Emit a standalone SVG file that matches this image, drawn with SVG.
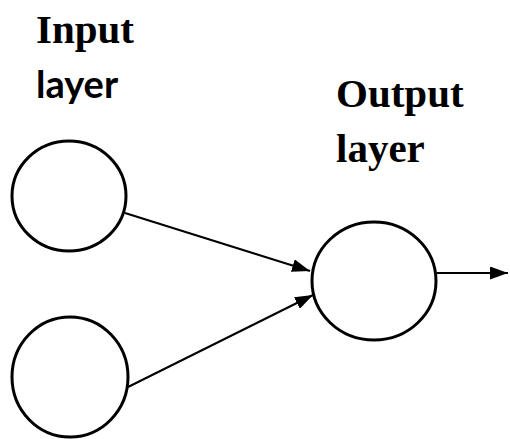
<svg xmlns="http://www.w3.org/2000/svg" width="510" height="439" viewBox="0 0 510 439">
<style>
.node{fill:#fff;stroke:#000;stroke-width:3}
.edge{stroke:#000;stroke-width:2;fill:none}
.serif{font-family:"Liberation Serif","Times New Roman",serif;font-weight:bold;font-size:41px;fill:#000}
.sans{font-family:Lato,"Liberation Sans",sans-serif;font-weight:bold;font-size:38px;fill:#000}
</style>
<defs>
<marker id="arr" viewBox="0 0 10 10" refX="10" refY="5" markerWidth="9" markerHeight="6.5" markerUnits="userSpaceOnUse" orient="auto" preserveAspectRatio="none">
<path d="M0,0 L10,5 L0,10 Z" fill="#000"/>
</marker>
<marker id="arrh" viewBox="0 0 10 10" refX="10" refY="5" markerWidth="18" markerHeight="13" markerUnits="userSpaceOnUse" orient="auto" preserveAspectRatio="none">
<path d="M0,0 L10,5 L0,10 Z" fill="#000"/>
</marker>
</defs>
<g id="labels">
<text class="serif" x="36" y="43">Input</text>
<text class="sans" x="36" y="98">layer</text>
<text class="serif" x="336" y="107">Output</text>
<text class="serif" x="336" y="162">layer</text>
</g>
<g id="connectors">
<line class="edge" x1="125" y1="213" x2="310" y2="271" marker-end="url(#arrh)"/>
<line class="edge" x1="128" y1="387" x2="313" y2="295" marker-end="url(#arrh)"/>
<line class="edge" x1="437" y1="273" x2="508" y2="273" marker-end="url(#arrh)"/>
</g>
<g id="input1"><ellipse class="node" cx="69" cy="196" rx="57" ry="55"/></g>
<g id="input2"><ellipse class="node" cx="70" cy="377" rx="58" ry="60"/></g>
<g id="output"><ellipse class="node" cx="374" cy="281" rx="62" ry="59"/></g>
</svg>
